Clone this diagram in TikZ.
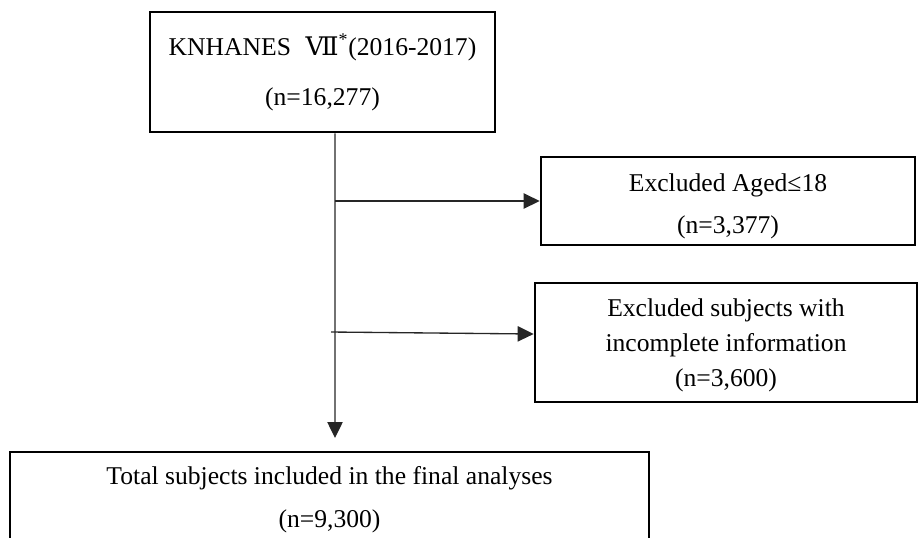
\documentclass[tikz,border=0pt]{standalone}
\usepackage{fontspec}
\setmainfont{Liberation Serif}
\newfontfamily\romfont{DejaVu Serif}
\usetikzlibrary{arrows.meta}
\begin{document}
\begin{tikzpicture}[x=0.75pt,y=-0.75pt]

    \tikzset{
      box/.style={
        draw,
        line width=2pt,
        align=center,
        inner sep=0pt,
        font=\fontsize{19.2}{37.5}\selectfont,
      },
      arr/.style={
        draw=black!85,
        line width=1pt,
        -{Triangle[length=12pt,width=11.5pt]},
      },
    }
    \clip (0,0) rectangle (920,537);
    \node[box,minimum width=258.75pt,minimum height=90pt] (knhanes) at (322.5,72)
      {KNHANES\hspace{11pt}{\romfont Ⅶ}\textsuperscript{*}(2016-2017)\\(n=16,277)};
    \node[box,minimum width=280.5pt,minimum height=66pt,font=\fontsize{19.2}{31.5}\selectfont] (aged) at (728,201)
      {\rule{0pt}{21pt}Excluded Aged≤18\\(n=3,377)};
    \node[box,minimum width=286.5pt,minimum height=89.25pt,font=\fontsize{19.2}{26.25}\selectfont] (incomplete) at (726,342.5)
      {\rule{0pt}{17pt}Excluded subjects with\\incomplete information\\(n=3,600)};
    \node[box,minimum width=479.25pt,minimum height=71.25pt,font=\fontsize{19.2}{32.25}\selectfont] (total) at (329.5,499.5)
      {Total subjects included in the final analyses\\(n=9,300)};

    \coordinate (split) at ([xshift=9.4pt]knhanes.south);
    \coordinate (down) at (335,438);
    \coordinate (branch) at (331,332);
    \draw[arr] (split) -- (down);
    \draw[arr] (split |- aged.west) -- (aged.west);
    \draw[arr] (branch) -- (incomplete.west |- 0,334);

\end{tikzpicture}
\end{document}
